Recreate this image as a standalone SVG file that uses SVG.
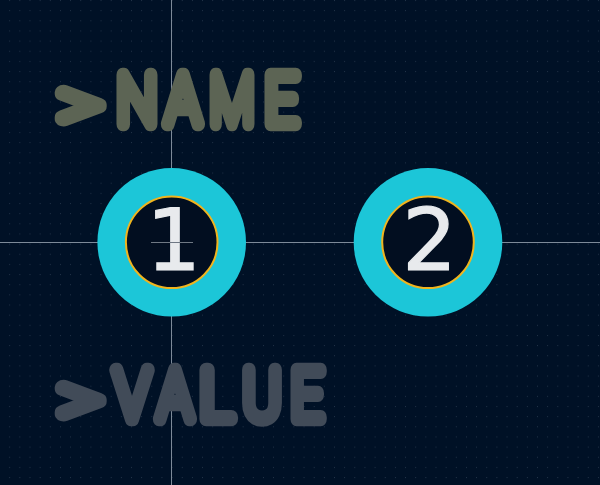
<svg xmlns="http://www.w3.org/2000/svg" width="600" height="485" viewBox="0 0 600 485">
<style>
.big{font-family:"Roboto","Liberation Sans",sans-serif;font-weight:100;font-size:68px;stroke-width:14.5;stroke-linejoin:round;stroke-linecap:round}
.num{font-family:"DejaVu Sans",sans-serif;font-size:86px;fill:#e8eaed;stroke:#e8eaed;stroke-width:1.2;text-anchor:middle}
.pad{fill:#1cc6d8}
.hole{fill:#020e20;stroke:#f0b41e;stroke-width:2}
.axis{stroke:#7d8a99;stroke-width:1;fill:none}
</style>
<defs>
<pattern id="grid" x="0" y="0" width="10.15" height="10.15" patternUnits="userSpaceOnUse">
<rect x="9.6" y="0" width="1" height="1" fill="#6a7a90" opacity="0.55"/>
</pattern>
</defs>
<rect width="600" height="485" fill="#001126"/>
<rect width="600" height="485" fill="url(#grid)"/>
<g id="axes"><path class="axis" d="M171.5 0V485M0 242.5H600"/></g>
<g id="name-label"><text class="big" y="124" fill="#5c6454" stroke="#5c6454"><tspan x="59" dy="4" textLength="43" lengthAdjust="spacingAndGlyphs">&gt;</tspan><tspan x="117" dy="-4" textLength="40" lengthAdjust="spacingAndGlyphs">N</tspan><tspan x="166" textLength="34" lengthAdjust="spacingAndGlyphs">A</tspan><tspan x="210" textLength="44" lengthAdjust="spacingAndGlyphs">M</tspan><tspan x="265" textLength="33" lengthAdjust="spacingAndGlyphs">E</tspan></text></g>
<g id="value-label"><text class="big" y="419" fill="#414b58" stroke="#414b58"><tspan x="59" dy="4" textLength="43" lengthAdjust="spacingAndGlyphs">&gt;</tspan><tspan x="114.5" dy="-4" textLength="35" lengthAdjust="spacingAndGlyphs">V</tspan><tspan x="158" textLength="34" lengthAdjust="spacingAndGlyphs">A</tspan><tspan x="200" textLength="33" lengthAdjust="spacingAndGlyphs">L</tspan><tspan x="243" textLength="38" lengthAdjust="spacingAndGlyphs">U</tspan><tspan x="291" textLength="32" lengthAdjust="spacingAndGlyphs">E</tspan></text></g>
<g id="pad-1">
<circle class="pad" cx="171.7" cy="242.3" r="74.3"/>
<circle class="hole" cx="171.7" cy="242.3" r="45.8"/>
<text class="num" x="173.5" y="270">1</text>
<path d="M151 242.5H193" stroke="#6f7884" stroke-width="1" fill="none"/>
</g>
<g id="pad-2">
<circle class="pad" cx="428" cy="242.3" r="74.3"/>
<circle class="hole" cx="428" cy="242.3" r="45.8"/>
<text class="num" x="429.5" y="270">2</text>
</g>
</svg>
